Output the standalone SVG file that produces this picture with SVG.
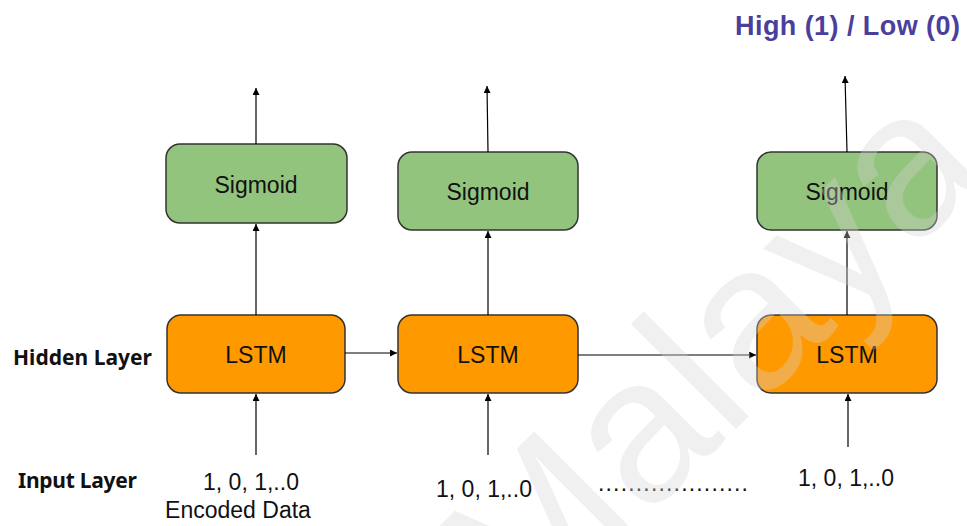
<svg xmlns="http://www.w3.org/2000/svg" width="967" height="526" viewBox="0 0 967 526">
<defs>
<marker id="arr" viewBox="0 0 8 8" refX="8" refY="4" markerWidth="7" markerHeight="7" markerUnits="userSpaceOnUse" orient="auto">
<path d="M0,0 L8,4 L0,8 z" fill="#000"/>
</marker>
<style>
.sig{fill:#93c47d;stroke:#333;stroke-width:1.5}
.lstm{fill:#ff9900;stroke:#333;stroke-width:1.5}
.lbl{font-family:"Liberation Sans",Arial,sans-serif;font-size:23px;fill:#111;text-anchor:middle}
.side{font-family:"Noto Sans","Open Sans",sans-serif;font-weight:700;font-size:21px;fill:#111}
.c{stroke:#000;stroke-width:1.2;fill:none;marker-end:url(#arr)}
.wm{font-family:"Liberation Sans",Arial,sans-serif;font-size:205px;fill:#d4d4d4;fill-opacity:0.35}
</style>
</defs>
<rect width="967" height="526" fill="#fff"/>

<text x="735" y="35" font-family="Liberation Sans,Arial,sans-serif" font-weight="700" font-size="27" fill="#4b3f9c" textLength="225">High (1) / Low (0)</text>

<g id="sigmoid1"><rect class="sig" x="166" y="144" width="181" height="79" rx="14"/><text class="lbl" x="256" y="193">Sigmoid</text></g>
<g id="sigmoid2"><rect class="sig" x="398" y="152" width="180" height="78" rx="14"/><text class="lbl" x="488" y="200">Sigmoid</text></g>
<g id="sigmoid3"><rect class="sig" x="757" y="152" width="180" height="78" rx="14"/><text class="lbl" x="847" y="200">Sigmoid</text></g>

<g id="lstm1"><rect class="lstm" x="167" y="315" width="178" height="78" rx="14"/><text class="lbl" x="256" y="363">LSTM</text></g>
<g id="lstm2"><rect class="lstm" x="398" y="315" width="180" height="78" rx="14"/><text class="lbl" x="488" y="363">LSTM</text></g>
<g id="lstm3"><rect class="lstm" x="757" y="315" width="180" height="78" rx="14"/><text class="lbl" x="847" y="363">LSTM</text></g>

<g id="labels">
<text class="side" x="13" y="365" textLength="139">Hidden Layer</text>
<text class="side" x="18" y="488" textLength="119">Input Layer</text>
<text class="lbl" x="251" y="490">1, 0, 1,..0</text>
<text class="lbl" x="238" y="518" font-size="21">Encoded Data</text>
<text class="lbl" x="484" y="497">1, 0, 1,..0</text>
<text class="lbl" x="846" y="486">1, 0, 1,..0</text>
<text x="598" y="491" font-family="Liberation Sans,Arial,sans-serif" font-size="23" fill="#111" textLength="150">....................</text>
</g>

<g id="connectors">
<line class="c" x1="256" y1="144" x2="256" y2="88"/>
<line class="c" x1="488" y1="152" x2="487" y2="86"/>
<line class="c" x1="847" y1="152" x2="845" y2="76"/>
<line class="c" x1="256" y1="315" x2="256" y2="224"/>
<line class="c" x1="488" y1="315" x2="488" y2="231"/>
<line class="c" x1="847" y1="315" x2="847" y2="231"/>
<line class="c" x1="256" y1="455" x2="256" y2="394"/>
<line class="c" x1="488" y1="455" x2="488" y2="394"/>
<line class="c" x1="848" y1="447" x2="848" y2="394"/>
<line class="c" x1="345" y1="353" x2="397" y2="353"/>
<line class="c" x1="578" y1="355" x2="756" y2="355"/>
</g>

<text class="wm" transform="translate(525,640) rotate(-45)">Malaya</text>
</svg>
